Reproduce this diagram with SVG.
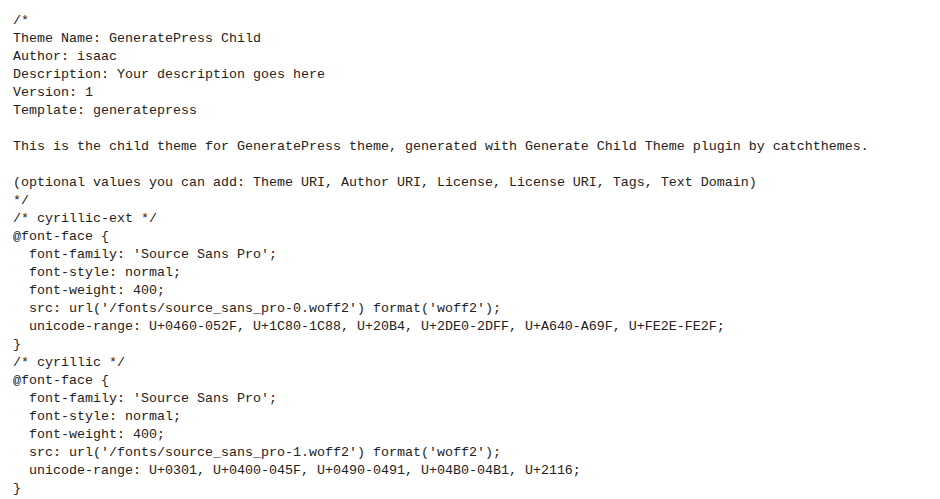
<svg xmlns="http://www.w3.org/2000/svg" width="940" height="499" viewBox="0 0 940 499">
<style>text{font-family:"Liberation Mono","DejaVu Sans Mono",monospace;font-size:13.33px;fill:#222;white-space:pre}</style>
<rect width="940" height="499" fill="#fff"/>
<g id="code" xml:space="preserve">
<text x="13" y="24">/*</text>
<text x="13" y="42">Theme Name: GeneratePress Child</text>
<text x="13" y="60">Author: isaac</text>
<text x="13" y="78">Description: Your description goes here</text>
<text x="13" y="96">Version: 1</text>
<text x="13" y="114">Template: generatepress</text>
<text x="13" y="150">This is the child theme for GeneratePress theme, generated with Generate Child Theme plugin by catchthemes.</text>
<text x="13" y="186">(optional values you can add: Theme URI, Author URI, License, License URI, Tags, Text Domain)</text>
<text x="13" y="204">*/</text>
<text x="13" y="222">/* cyrillic-ext */</text>
<text x="13" y="240">@font-face {</text>
<text x="13" y="258">  font-family: 'Source Sans Pro';</text>
<text x="13" y="276">  font-style: normal;</text>
<text x="13" y="294">  font-weight: 400;</text>
<text x="13" y="312">  src: url('/fonts/source_sans_pro-0.woff2') format('woff2');</text>
<text x="13" y="330">  unicode-range: U+0460-052F, U+1C80-1C88, U+20B4, U+2DE0-2DFF, U+A640-A69F, U+FE2E-FE2F;</text>
<text x="13" y="348">}</text>
<text x="13" y="366">/* cyrillic */</text>
<text x="13" y="384">@font-face {</text>
<text x="13" y="402">  font-family: 'Source Sans Pro';</text>
<text x="13" y="420">  font-style: normal;</text>
<text x="13" y="438">  font-weight: 400;</text>
<text x="13" y="456">  src: url('/fonts/source_sans_pro-1.woff2') format('woff2');</text>
<text x="13" y="474">  unicode-range: U+0301, U+0400-045F, U+0490-0491, U+04B0-04B1, U+2116;</text>
<text x="13" y="492">}</text>
</g>
</svg>
